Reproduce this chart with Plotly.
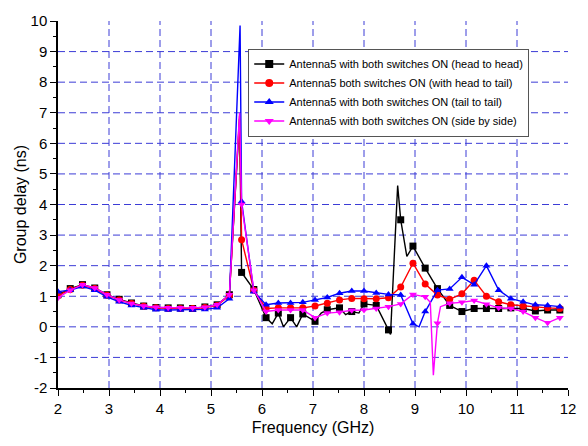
import plotly.graph_objects as go

# ---------------- data ----------------
freq = [2.00, 2.24, 2.48, 2.72, 2.96, 3.20, 3.44, 3.68, 3.92, 4.16, 4.40,
        4.64, 4.88, 5.12, 5.36, 5.60, 5.84, 6.08, 6.32, 6.56, 6.80, 7.04,
        7.28, 7.52, 7.76, 8.00, 8.24, 8.48, 8.72, 8.96, 9.20, 9.44, 9.68,
        9.92, 10.16, 10.40, 10.64, 10.88, 11.12, 11.36, 11.60, 11.84]

head_to_head = [1.05, 1.25, 1.38, 1.27, 1.05, 0.90, 0.78, 0.68, 0.63, 0.62, 0.62,
                0.60, 0.65, 0.72, 1.05, 1.78, 1.22, 0.30, 0.45, 0.30, 0.42, 0.18,
                0.56, 0.62, 0.50, 0.75, 0.70, -0.10, 3.50, 2.64, 1.92, 1.25, 0.70,
                0.50, 0.60, 0.60, 0.60, 0.62, 0.60, 0.52, 0.55, 0.55]
head_to_head_extra_x = [5.56, 6.20, 6.42, 6.68, 7.16, 7.64, 7.90, 8.52, 8.66, 8.84]
head_to_head_extra_y = [6.80, 0.10, 0.00, 0.00, 0.45, 0.40, 0.45, -0.25, 4.62, 2.30]

head_to_tail = [1.02, 1.22, 1.36, 1.25, 1.03, 0.88, 0.76, 0.67, 0.62, 0.60, 0.60,
                0.60, 0.63, 0.70, 1.02, 2.85, 1.20, 0.60, 0.62, 0.62, 0.62, 0.68,
                0.77, 0.88, 0.93, 0.92, 0.92, 0.95, 1.30, 2.08, 1.40, 1.04, 0.90,
                1.08, 1.52, 1.00, 0.82, 0.72, 0.68, 0.66, 0.62, 0.60]
head_to_tail_extra_x = [5.56]
head_to_tail_extra_y = [6.90]

tail_to_tail = [1.15, 1.20, 1.32, 1.20, 0.98, 0.82, 0.70, 0.62, 0.56, 0.55, 0.55,
                0.55, 0.57, 0.62, 0.92, 4.10, 1.15, 0.72, 0.78, 0.78, 0.80, 0.88,
                0.96, 1.10, 1.17, 1.17, 1.11, 1.06, 1.04, 0.10, 0.50, 1.20, 1.24,
                1.62, 1.38, 2.00, 1.20, 0.92, 0.82, 0.72, 0.70, 0.66]
tail_to_tail_extra_x = [5.57, 9.08]
tail_to_tail_extra_y = [9.85, 0.00]

side_by_side = [0.95, 1.20, 1.38, 1.27, 1.05, 0.88, 0.76, 0.68, 0.64, 0.62, 0.62,
                0.62, 0.64, 0.72, 1.05, 4.00, 1.20, 0.50, 0.55, 0.55, 0.55, 0.30,
                0.45, 0.48, 0.54, 0.55, 0.60, 0.66, 0.75, 1.06, 0.98, 0.12, 0.77,
                0.80, 0.86, 0.74, 0.62, 0.60, 0.50, 0.30, 0.13, 0.30]
side_by_side_extra_x = [5.56, 9.30, 9.36, 9.50]
side_by_side_extra_y = [7.00, 0.80, -1.58, 0.66]

labels = ["Antenna5 with both switches ON (head to head)",
          "Antenna5 both switches ON (with head to tail)",
          "Antenna5 with both switches ON (tail to tail)",
          "Antenna5 with both switches ON (side by side)"]
colors = ["#000000", "#ff0000", "#0000ff", "#ff00ff"]
symbols = ["square", "circle", "triangle-up", "triangle-down"]

x_ticks = [2, 3, 4, 5, 6, 7, 8, 9, 10, 11, 12]
y_ticks = [-2, -1, 0, 1, 2, 3, 4, 5, 6, 7, 8, 9, 10]

series = [
    (head_to_head, head_to_head_extra_x, head_to_head_extra_y),
    (head_to_tail, head_to_tail_extra_x, head_to_tail_extra_y),
    (tail_to_tail, tail_to_tail_extra_x, tail_to_tail_extra_y),
    (side_by_side, side_by_side_extra_x, side_by_side_extra_y),
]

fig = go.Figure()
for i, (ys, ex, ey) in enumerate(series):
    pts = sorted(list(zip(freq, ys)) + list(zip(ex, ey)))
    lx = [p[0] for p in pts]
    ly = [p[1] for p in pts]
    fig.add_trace(go.Scatter(x=lx, y=ly, mode="lines",
                             line=dict(color=colors[i], width=1.4),
                             showlegend=False, hoverinfo="skip",
                             legendgroup=str(i)))
    fig.add_trace(go.Scatter(x=freq, y=ys, mode="markers",
                             marker=dict(color=colors[i], symbol=symbols[i], size=7),
                             showlegend=False, legendgroup=str(i)))
    fig.add_trace(go.Scatter(x=[None], y=[None], mode="lines+markers",
                             line=dict(color=colors[i], width=1.4),
                             marker=dict(color=colors[i], symbol=symbols[i], size=8),
                             name=labels[i], legendgroup=str(i)))

grid_color = "#3c3cd6"
shapes = []
for xv in x_ticks[1:-1]:
    shapes.append(dict(type="line", xref="x", yref="y", x0=xv, x1=xv,
                       y0=y_ticks[0], y1=y_ticks[-1], layer="below",
                       line=dict(color=grid_color, width=1, dash="7px,4px")))
for yv in y_ticks[1:-1]:
    shapes.append(dict(type="line", xref="x", yref="y", x0=x_ticks[0], x1=x_ticks[-1],
                       y0=yv, y1=yv, layer="below",
                       line=dict(color=grid_color, width=1, dash="7px,4px")))

font_family = "Liberation Sans, Arial, sans-serif"
fig.update_layout(
    width=588, height=446,
    margin=dict(l=58, r=12, t=16, b=53),
    paper_bgcolor="white", plot_bgcolor="white",
    font=dict(family=font_family, color="black"),
    shapes=shapes,
    showlegend=True,
    legend=dict(x=0.373, y=0.925, xanchor="left", yanchor="top",
                bgcolor="white", bordercolor="#555555", borderwidth=1,
                font=dict(size=11, family=font_family, color="black"),
                tracegroupgap=0, itemwidth=30),
    xaxis=dict(range=[2, 12], tickvals=x_ticks, ticktext=[str(v) for v in x_ticks],
               showgrid=False, zeroline=False,
               showline=True, linecolor="black", linewidth=1.5,
               ticks="outside", ticklen=6, tickwidth=1.2, tickcolor="black",
               tickfont=dict(size=15),
               minor=dict(dtick=0.5, tick0=2, ticks="outside", ticklen=3,
                          tickcolor="black", showgrid=False),
               title=dict(text="Frequency (GHz)", font=dict(size=16), standoff=6)),
    yaxis=dict(range=[-2, 10], tickvals=y_ticks, ticktext=[str(v) for v in y_ticks],
               showgrid=False, zeroline=False,
               showline=True, linecolor="black", linewidth=1.5,
               ticks="outside", ticklen=6, tickwidth=1.2, tickcolor="black",
               tickfont=dict(size=15),
               minor=dict(dtick=0.5, tick0=0, ticks="outside", ticklen=3,
                          tickcolor="black", showgrid=False),
               title=dict(text="Group delay (ns)", font=dict(size=16), standoff=0)),
)

fig.write_html("out.html")
